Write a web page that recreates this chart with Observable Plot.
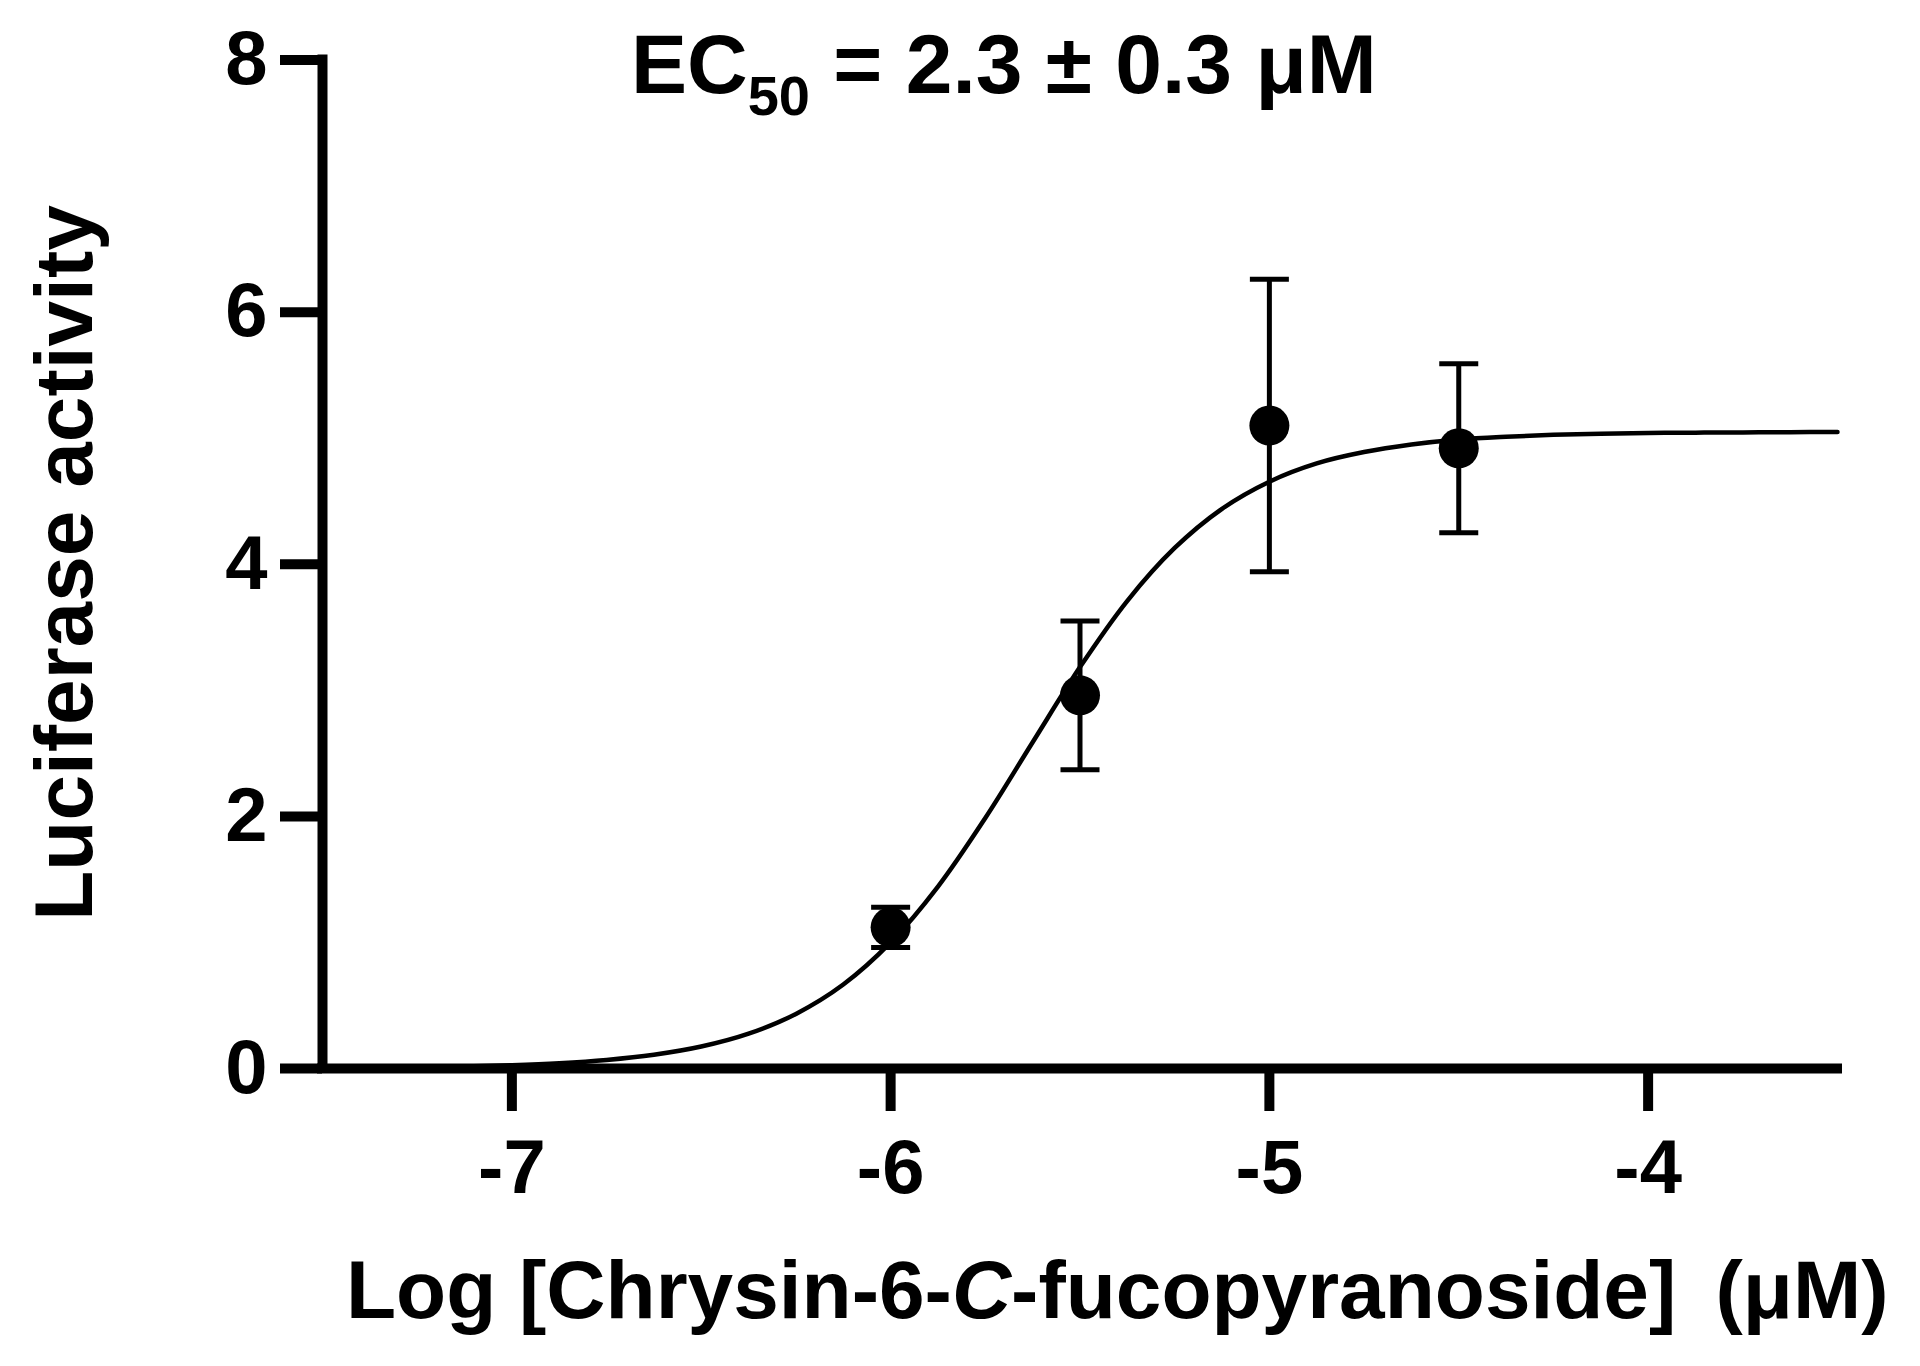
<!DOCTYPE html>
<html>
<head>
<meta charset="utf-8">
<script src="https://cdn.jsdelivr.net/npm/d3@7"></script>
<script src="https://cdn.jsdelivr.net/npm/@observablehq/plot@0.6"></script>
<style>
  html, body { margin: 0; padding: 0; background: #fff; }
  svg { display: block; }
</style>
</head>
<body>
<div id="chart"></div>
<script>
// Measured points (log concentration, mean luciferase activity, SEM)
const logConc = [-6, -5.5, -5, -4.5];
const meanActivity = [1.12, 2.96, 5.10, 4.92];
const semActivity = [0.16, 0.59, 1.16, 0.67];

// Fitted curve (every 0.125 log units)
const fitLogConc = [-7.5, -7.375, -7.25, -7.125, -7, -6.875, -6.75, -6.625, -6.5, -6.375, -6.25, -6.125, -6,
  -5.875, -5.75, -5.625, -5.5, -5.375, -5.25, -5.125, -5, -4.875, -4.75, -4.625, -4.5,
  -4.375, -4.25, -4.125, -4, -3.875, -3.75, -3.625, -3.5];
const fitActivity = [0.004, 0.006, 0.010, 0.016, 0.026, 0.042, 0.068, 0.109, 0.174, 0.276, 0.433, 0.666, 1.00,
  1.443, 1.987, 2.588, 3.184, 3.710, 4.129, 4.440, 4.655, 4.800, 4.890, 4.950, 4.990,
  5.012, 5.027, 5.036, 5.041, 5.044, 5.046, 5.048, 5.049];

// Axis ticks
const xTicks = [-7, -6, -5, -4];
const yTicks = [0, 2, 4, 6, 8];

const points = logConc.map((x, i) => ({x, y: meanActivity[i], sem: semActivity[i]}));
const fit = fitLogConc.map((x, i) => ({x, y: fitActivity[i]}));

const capSymbol = {
  draw(context, size) {
    const r = Math.sqrt(size / Math.PI);
    context.moveTo(-r, 0);
    context.lineTo(r, 0);
  }
};

const FONT = "'Liberation Sans', Arial, Helvetica, sans-serif";

const chart = Plot.plot({
  width: 1920,
  height: 1366,
  marginLeft: 322,
  marginRight: 83,
  marginTop: 59.5,
  marginBottom: 298,
  style: {fontFamily: FONT, fontWeight: "bold", background: "#fff", color: "#000"},
  x: {domain: [-7.5, -3.5]},
  y: {domain: [0, 8]},
  marks: [
    Plot.axisX(xTicks, {tickSize: 43, tickPadding: 28, fontSize: 76, fontWeight: "bold", strokeWidth: 10, tickFormat: d => String(d), label: null}),
    Plot.axisY(yTicks, {tickSize: 42, tickPadding: 13, fontSize: 76, fontWeight: "bold", strokeWidth: 10, tickFormat: d => String(d), label: null}),
    Plot.ruleY([0], {strokeWidth: 10, strokeLinecap: "square"}),
    Plot.ruleX([-7.5], {strokeWidth: 10, strokeLinecap: "square"}),
    Plot.line(fit, {x: "x", y: "y", curve: "catmull-rom", strokeWidth: 4.5, stroke: "#000"}),
    Plot.ruleX(points, {x: "x", y1: d => d.y - d.sem, y2: d => d.y + d.sem, strokeWidth: 5, stroke: "#000"}),
    Plot.dot(points, {x: "x", y: d => d.y + d.sem, symbol: capSymbol, r: 19.5, stroke: "#000", strokeWidth: 5, fill: "none"}),
    Plot.dot(points, {x: "x", y: d => d.y - d.sem, symbol: capSymbol, r: 19.5, stroke: "#000", strokeWidth: 5, fill: "none"}),
    Plot.dot(points, {x: "x", y: "y", r: 20, fill: "#000", stroke: "none"})
  ]
});

const svg = d3.select(chart);

// Title with subscript
const title = svg.append("text")
  .attr("x", 631).attr("y", 93)
  .attr("text-anchor", "start")
  .attr("font-family", FONT).attr("font-weight", "bold").attr("font-size", 84).attr("fill", "#000");
title.append("tspan").text("EC");
title.append("tspan").attr("font-size", 56).attr("dy", 22).text("50");
title.append("tspan").attr("dy", -22).text(" = 2.3 ± 0.3 μM");

// Y axis label
svg.append("text")
  .attr("transform", "translate(92,563) rotate(-90)")
  .attr("text-anchor", "middle")
  .attr("font-family", FONT).attr("font-weight", "bold").attr("font-size", 82).attr("fill", "#000")
  .text("Luciferase activity");

// X axis label with italic C
const xl = svg.append("text")
  .attr("x", 346).attr("y", 1318)
  .attr("text-anchor", "start")
  .attr("font-family", FONT).attr("font-weight", "bold").attr("font-size", 82).attr("fill", "#000");
xl.append("tspan").text("Log [Chrysin-6-");
xl.append("tspan").attr("font-style", "italic").text("C");
xl.append("tspan").text("-fucopyranoside] \u2009(μM)");

document.getElementById("chart").appendChild(chart);
</script>
</body>
</html>
